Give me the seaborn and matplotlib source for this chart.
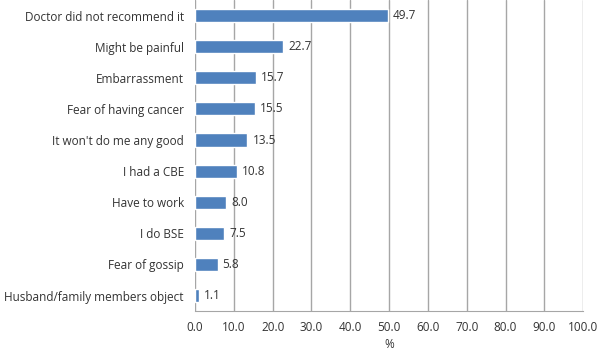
import matplotlib
matplotlib.use("Agg")
import matplotlib.pyplot as plt
import seaborn as sns
import pandas as pd
from matplotlib.ticker import FormatStrFormatter

# Datos
reasons = ["Doctor did not recommend it", "Might be painful", "Embarrassment",
           "Fear of having cancer", "It won't do me any good", "I had a CBE",
           "Have to work", "I do BSE", "Fear of gossip", "Husband/family members object"]
percent = [49.7, 22.7, 15.7, 15.5, 13.5, 10.8, 8.0, 7.5, 5.8, 1.1]

df = pd.DataFrame({"reason": reasons, "pct": percent})

sns.set_style("white")
plt.rcParams["font.family"] = ["Open Sans", "DejaVu Sans"]

fig = plt.figure(figsize=(6, 3.52), dpi=100)
ax = fig.add_axes([0.325, 0.116, 0.647, 0.884])

sns.barplot(data=df, x="pct", y="reason", orient="h", color="#4F81BD",
            saturation=1, width=0.42, ax=ax, zorder=3)

for i, v in enumerate(percent):
    ax.text(v + 1.3, i, f"{v:.1f}", va="center", ha="left", fontsize=8.5, color="#333333")

ax.set_xlim(0, 100)
ax.set_xticks(range(0, 101, 10))
ax.xaxis.set_major_formatter(FormatStrFormatter("%.1f"))
ax.grid(axis="x", color="#A6A6A6", linewidth=1, zorder=0)
ax.set_xlabel("%", fontsize=8.5, labelpad=3, color="#333333")
ax.set_ylabel("")
ax.tick_params(axis="x", length=4, color="#A6A6A6", labelsize=8.5, pad=3, labelcolor="#333333")
ax.tick_params(axis="y", length=0, labelsize=8.5, pad=8, labelcolor="#333333")
for s in ["top", "right", "left"]:
    ax.spines[s].set_visible(False)
ax.spines["bottom"].set_color("#A6A6A6")

fig.savefig("out.png", dpi=100)
